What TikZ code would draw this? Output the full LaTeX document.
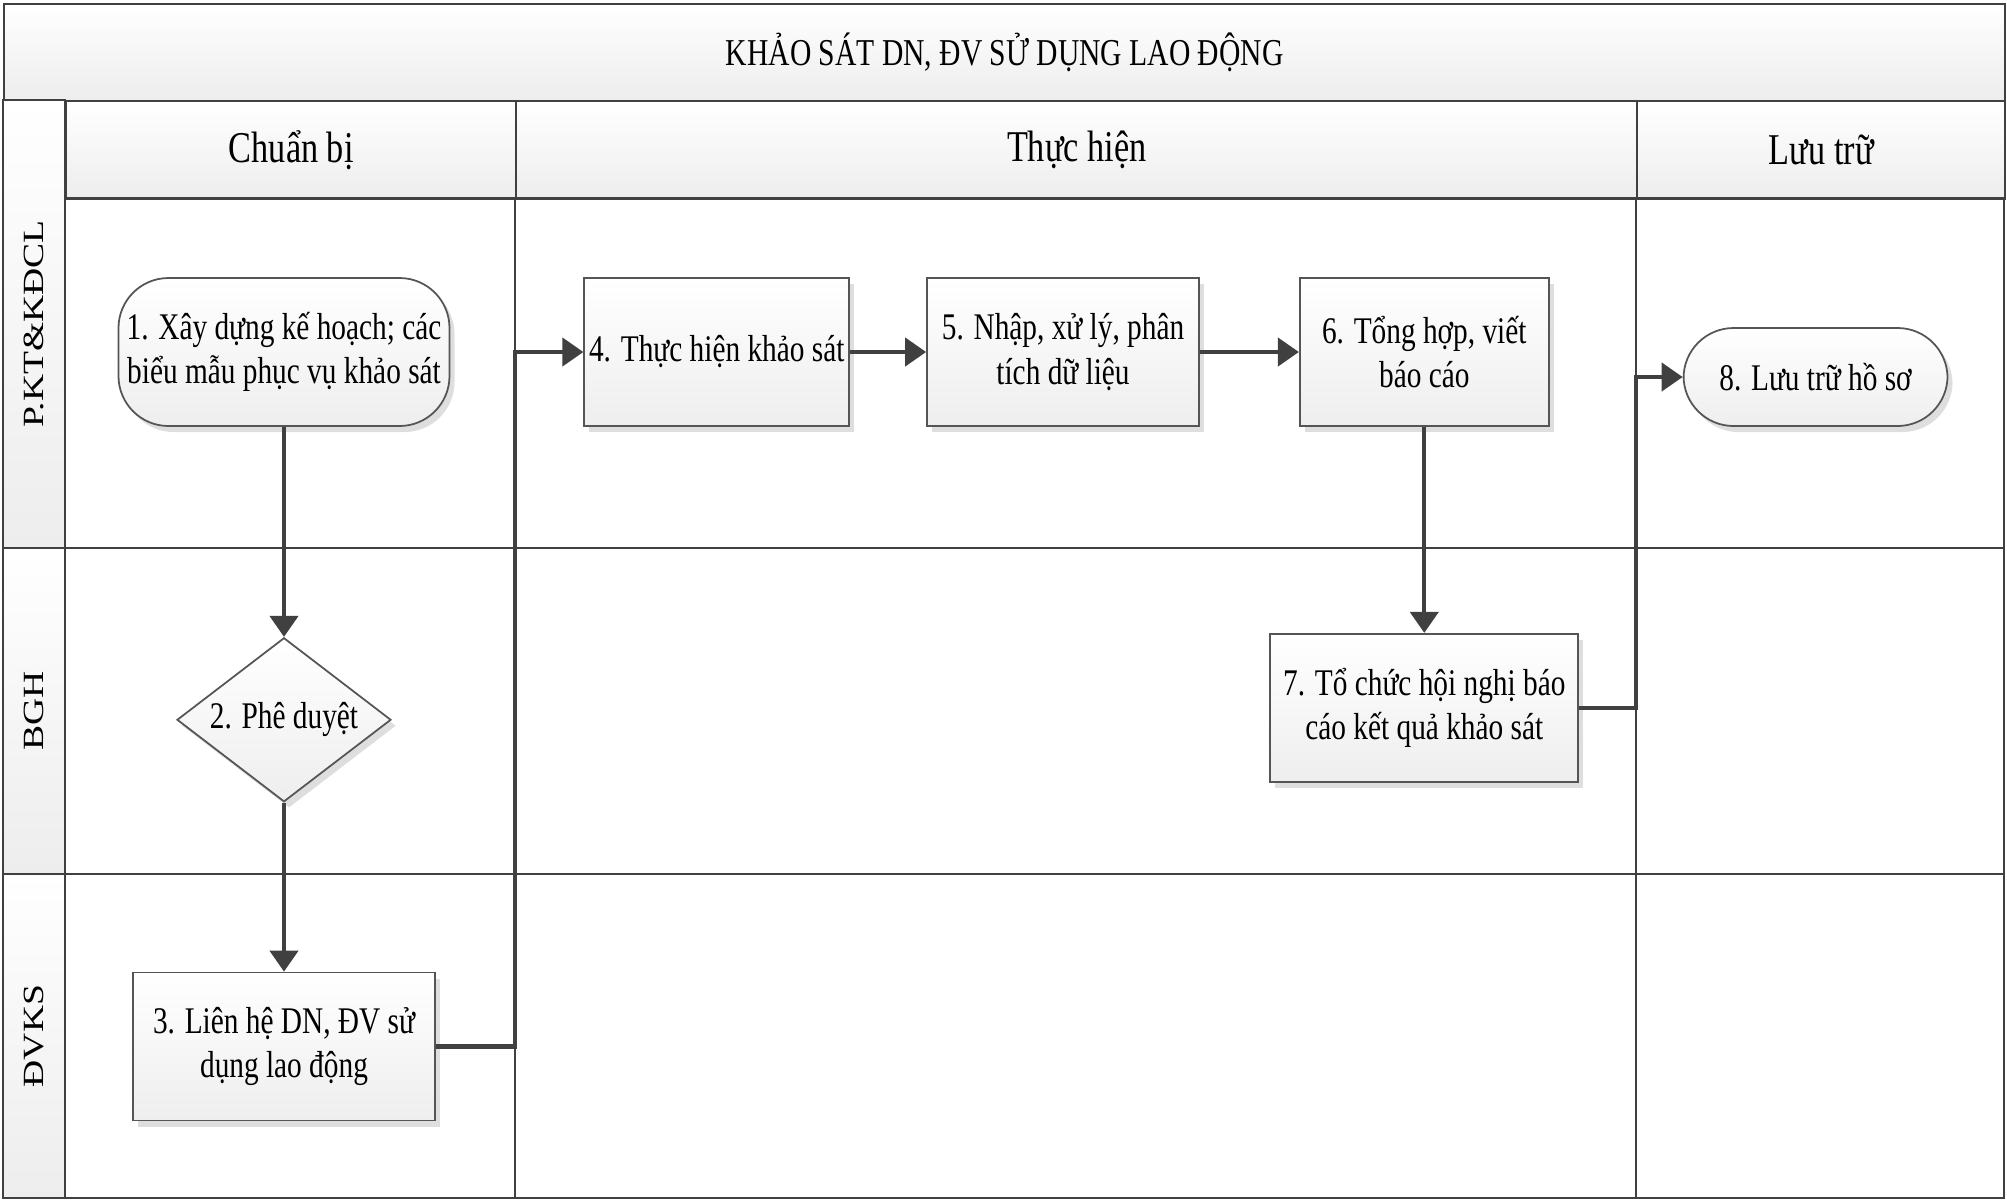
\documentclass[tikz,border=0pt]{standalone}
\usepackage{graphicx}
\usepackage{fontspec}
\setmainfont[FakeStretch=0.78]{Liberation Serif}
\newfontfamily\lanefont{Liberation Serif}
\usetikzlibrary{arrows.meta,positioning,shapes.geometric,shadows}

\definecolor{lineg}{HTML}{404040}
\definecolor{boxline}{HTML}{555555}
\definecolor{bandg}{HTML}{EDEDED}
\definecolor{boxg}{HTML}{EEEEEE}

\begin{document}
\begin{tikzpicture}[
  grid/.style={draw=lineg,line width=0.7pt},
  band/.style={grid,top color=white,bottom color=bandg,anchor=north west,inner sep=0pt},
  lanehead/.style={grid,rotate=90,top color=white,bottom color=bandg,inner sep=0pt,
    font=\lanefont\fontsize{10.7}{12}\selectfont},
  box/.style={draw=boxline,line width=0.5pt,top color=white,bottom color=boxg,align=center,
    inner xsep=0.5pt,inner ysep=2pt,minimum height=14.8mm,font=\fontsize{10.7}{12.6}\selectfont,
    drop shadow={shadow xshift=0.5mm,shadow yshift=-0.6mm,fill=black,opacity=0.13}},
  term/.style={box,rounded corners=5mm},
  check/.style={box,diamond,aspect=1.3,inner sep=1pt,minimum width=21.4mm,minimum height=16.4mm},
  flow/.style={draw=lineg,line width=1.2pt,-{Triangle[length=2.1mm,width=2.8mm]}},
  node distance=1cm]
\useasboundingbox (0,0) rectangle (20.07,-12);

% title and column heads
\node[band,minimum width=200.1mm,minimum height=9.7mm,font=\fontsize{10.8}{13}\selectfont]
  (title) at (0.03,-0.03) {KHẢO SÁT DN, ĐV SỬ DỤNG LAO ĐỘNG};
\node[band,minimum width=45mm,minimum height=9.8mm,font=\fontsize{12.5}{15}\selectfont]
  (hPrep) at (0.65,-1.00) {Chuẩn bị};
\node[band,minimum width=112.1mm,minimum height=9.8mm,font=\fontsize{12.5}{15}\selectfont]
  (hDo) at (5.15,-1.00) {Thực hiện};
\node[band,minimum width=36.8mm,minimum height=9.8mm,font=\fontsize{12.5}{15}\selectfont]
  (hKeep) at (16.36,-1.00) {Lưu trữ};

% lanes
\node[lanehead,minimum width=44.8mm,minimum height=6.2mm] (lQA) at (0.34,-3.24)
  {\scalebox{1}[0.78]{P.KT\&KĐCL}};
\node[lanehead,minimum width=32.6mm,minimum height=6.2mm] (lBGH) at (0.34,-7.11)
  {\scalebox{1}[0.78]{BGH}};
\node[lanehead,minimum width=32.4mm,minimum height=6.2mm] (lDV) at (0.34,-10.36)
  {\scalebox{1}[0.78]{ĐVKS}};
\draw[grid] (0.65,-1.98) rectangle (20.04,-11.98);
\draw[grid] (0.65,-5.48) -- (20.04,-5.48) (0.65,-8.74) -- (20.04,-8.74);
\draw[grid] (5.15,-1.98) -- (5.15,-11.98) (16.36,-1.98) -- (16.36,-11.98);
\coordinate (cb) at (5.15,0);
\coordinate (cc) at (16.36,0);

% steps
\node[term,minimum width=33.1mm] (n1) at (2.84,-3.52) {1. Xây dựng kế hoạch; các\\ biểu mẫu phục vụ khảo sát};
\node[check,below=2.1cm of n1] (n2) {2. Phê duyệt};
\node[box,minimum width=30.2mm,below=1.69cm of n2] (n3) {3. Liên hệ DN, ĐV sử\\ dụng lao động};
\node[box,minimum width=26.5mm,right=1.33cm of n1] (n4) {4. Thực hiện khảo sát};
\node[box,minimum width=27.2mm,right=0.76cm of n4] (n5) {5. Nhập, xử lý, phân\\ tích dữ liệu};
\node[box,minimum width=24.9mm,right=0.99cm of n5] (n6) {6. Tổng hợp, viết\\ báo cáo};
\node[box,minimum width=30.8mm,below=2.06cm of n6] (n7) {7. Tổ chức hội nghị báo\\ cáo kết quả khảo sát};
\node[term,minimum width=26.4mm,minimum height=9.8mm,right=1.33cm of n6,yshift=-2.5mm] (n8) {8. Lưu trữ hồ sơ};

% flow
\draw[flow] (n1) -- (n2);
\draw[flow] (n2) -- (n3);
\draw[flow] (n3.east) -- (n3.east -| cb) |- (n4.west);
\draw[flow] (n4) -- (n5);
\draw[flow] (n5) -- (n6);
\draw[flow] (n6) -- (n7);
\draw[flow] (n7.east) -- (n7.east -| cc) |- (n8.west);
\end{tikzpicture}
\end{document}
